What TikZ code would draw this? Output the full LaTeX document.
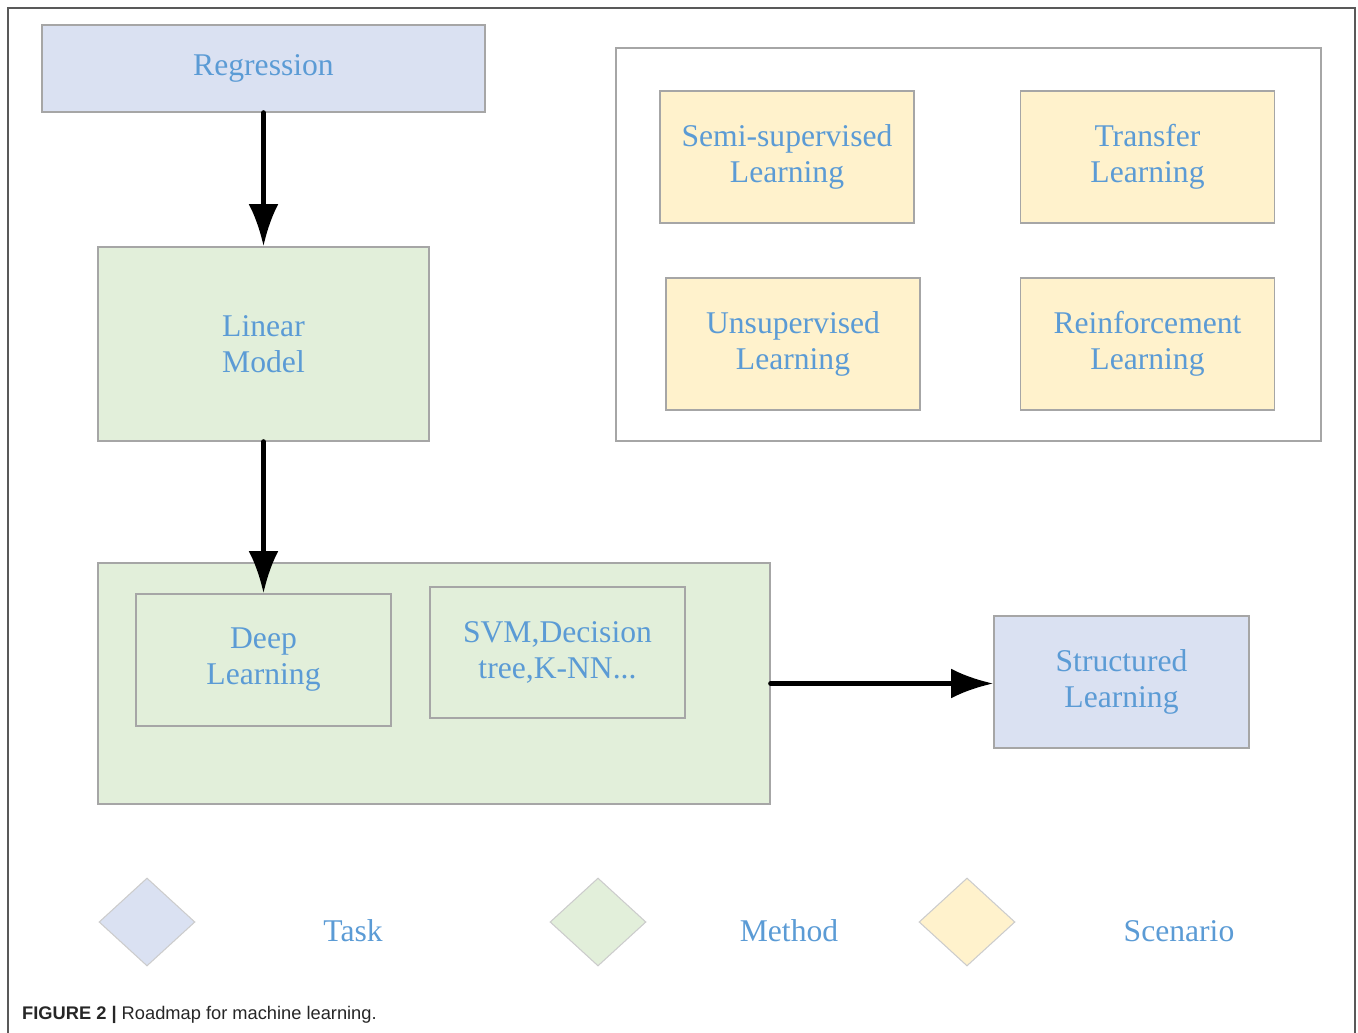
\documentclass[tikz,border=0pt]{standalone}
\usepackage{fontspec}
\setmainfont{Liberation Serif}
\newfontfamily\capfont{Liberation Sans}
\usetikzlibrary{arrows.meta,positioning,shapes.geometric}
\definecolor{taskfill}{HTML}{DAE1F2}
\definecolor{methodfill}{HTML}{E2EFDA}
\definecolor{scenefill}{HTML}{FFF2CC}
\definecolor{labeltext}{HTML}{5B9BD5}
\definecolor{boxline}{HTML}{A6A6A6}
\tikzset{
  >=Latex,
  box/.style={draw=boxline,line width=0.8pt,inner sep=0pt,align=center,
    text=labeltext,font=\fontsize{18}{20.5}\selectfont},
  task/.style={box,fill=taskfill},
  method/.style={box,fill=methodfill},
  scene/.style={box,fill=scenefill,minimum width=5.08cm,minimum height=2.64cm},
  flow/.style={->,line width=2.8pt,line cap=round,
    arrows={-Latex[length=24pt,width=17pt]}},
  key/.style={diamond,draw=black!20,line width=0.6pt,inner sep=0pt,
    minimum width=1.92cm,minimum height=1.76cm},
  keytext/.style={text=labeltext,font=\fontsize{18}{20.5}\selectfont}
}

\begin{document}
\begin{tikzpicture}[x=0.02cm,y=-0.02cm]
  \useasboundingbox (0,0) rectangle (1358,1033);
  % outer frame
  \draw[black!65,line width=0.8pt] (8,1033) -- (8,8) -- (1355,8) -- (1355,1033);

  % tasks and methods
  \node[task,minimum width=8.86cm,minimum height=1.74cm] (regr) at (263.5,68.5) {Regression};
  \node[method,minimum width=6.62cm,minimum height=3.88cm] (linear) at (263.5,344) {Linear\\Model};
  \node[method,minimum width=13.44cm,minimum height=4.82cm] (methods) at (434,683.5) {};
  \node[method,minimum width=5.10cm,minimum height=2.64cm] (deep) at (263.5,660) {Deep\\Learning};
  \node[method,minimum width=5.10cm,minimum height=2.62cm] (svm) at (557.5,652.5) {SVM,Decision\\tree,K-NN...};
  \node[task,minimum width=5.10cm,minimum height=2.64cm] (struct) at (1121.5,682) {Structured\\Learning};

  % scenarios
  \node[draw=boxline,line width=0.8pt,minimum width=14.10cm,minimum height=7.86cm] (scenes) at (968.5,244.5) {};
  \node[scene] (semi)  at (787,157)    {Semi-supervised\\Learning};
  \node[scene] (trans) at (1147.5,157) {Transfer\\Learning};
  \node[scene] (unsup) at (793,344)    {Unsupervised\\Learning};
  \node[scene] (reinf) at (1147.5,344) {Reinforcement\\Learning};

  % arrows
  \draw[flow] (regr.south) -- (linear.north);
  \draw[flow] (linear.south) -- (deep.north);
  \draw[flow] (methods.east) -- (methods.east -| struct.west);

  % legend
  \node[key,fill=taskfill]   (ktask)  at (147,922) {};
  \node[key,fill=methodfill] (kmeth)  at (598,922) {};
  \node[key,fill=scenefill]  (kscene) at (967,922) {};
  \node[keytext] (ltask)  at (353,931)  {Task};
  \node[keytext] (lmeth)  at (789,931)  {Method};
  \node[keytext] (lscene) at (1179,931) {Scenario};

  % caption
  \node[anchor=west,font=\capfont\fontsize{10.4}{12}\selectfont,text=black!85] (cap) at (16,1015)
    {\textbf{FIGURE 2 |} Roadmap for machine learning.};
\end{tikzpicture}
\end{document}
